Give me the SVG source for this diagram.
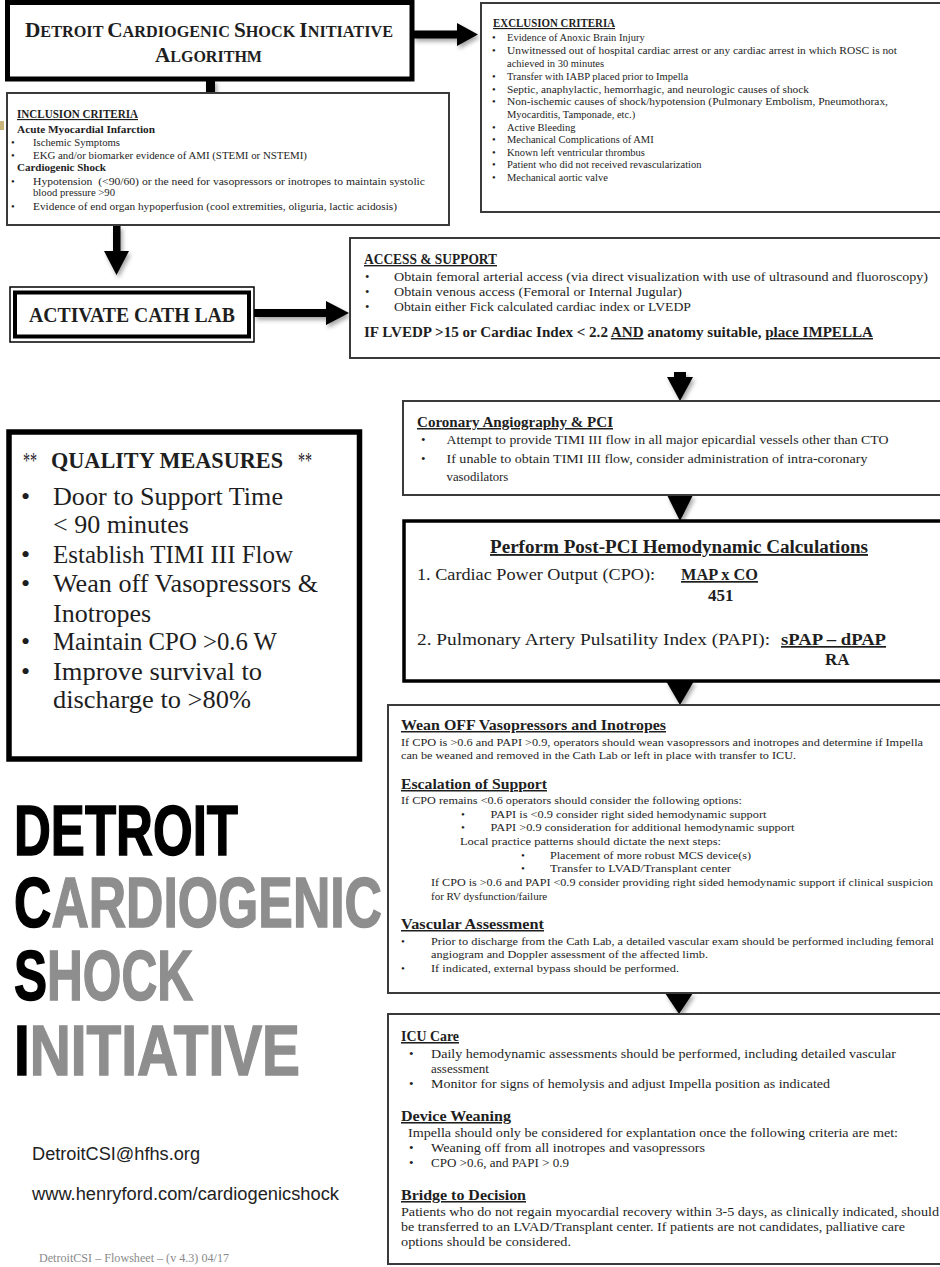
<svg xmlns="http://www.w3.org/2000/svg" width="940" height="1267" viewBox="0 0 940 1267">
  <defs>
    <filter id="shadow" x="-40%" y="-40%" width="180%" height="180%">
      <feDropShadow dx="2" dy="3" stdDeviation="2" flood-color="#000" flood-opacity="0.35"/>
    </filter>
  </defs>
  <style>
    .box{fill:#fff;stroke:#3a3a3a;stroke-width:2}
    .heavy{fill:#fff;stroke:#000}
    .s{font-family:"Liberation Serif","DejaVu Serif",serif;fill:#1e1e1e}
    .b{font-weight:bold}
    .u{text-decoration:underline}
    .arrow{fill:#000;filter:url(#shadow)}
    .ex{font-size:10.5px}
    .inc{font-size:10.7px}
    .acc{font-size:12.6px}
    .cor{font-size:12.8px}
    .pci{font-size:17px}
    .wn{font-size:11px}
    .icu{font-size:13px}
    .qm{font-size:26px}
    .logo{font-family:"Liberation Sans Narrow","Liberation Sans",sans-serif;font-weight:bold;font-size:70px}
    .dark{fill:#000;stroke:#000;stroke-width:1.5}
    .grey{fill:#8e8e8e;stroke:#8e8e8e;stroke-width:1.5}
    .sans{font-family:"Liberation Sans",Arial,sans-serif;font-size:18px;fill:#222}
  </style>
  <rect width="940" height="1267" fill="#fff"/>
  <rect x="0" y="121" width="4" height="9" fill="#c9b57a"/>

  <!-- connectors -->
  <g id="connectors">
    <polygon class="arrow" points="413,30.5 457,30.5 457,23 478,34.5 457,46 457,38.5 413,38.5"/>
    <polygon class="arrow" points="206,80 215,80 215,98 222.5,98 210.5,122 198.5,98 206,98"/>
    <polygon class="arrow" points="113,226 120.5,226 120.5,251 129,251 116.5,275 104,251 113,251"/>
    <polygon class="arrow" points="254,309 326,309 326,301 349,313 326,325 326,317 254,317"/>
    <polygon class="arrow" points="674,372 686,372 686,377 693,377 680,401 667,377 674,377"/>
    <polygon class="arrow" points="667,495 693,495 680,521"/>
    <polygon class="arrow" points="666,681 694,681 680,705"/>
    <polygon class="arrow" points="665,993 693,993 679,1014"/>
  </g>

  <!-- title -->
  <g id="title">
    <rect class="heavy" x="7.5" y="2.5" width="404.5" height="76.5" stroke-width="5"/>
    <text class="s b" x="25" y="37" textLength="368" lengthAdjust="spacingAndGlyphs"><tspan font-size="21">D</tspan><tspan font-size="16">ETROIT </tspan><tspan font-size="21">C</tspan><tspan font-size="16">ARDIOGENIC </tspan><tspan font-size="21">S</tspan><tspan font-size="16">HOCK </tspan><tspan font-size="21">I</tspan><tspan font-size="16">NITIATIVE</tspan></text>
    <text class="s b" x="155" y="62" textLength="107" lengthAdjust="spacingAndGlyphs"><tspan font-size="21">A</tspan><tspan font-size="16">LGORITHM</tspan></text>
  </g>

  <!-- exclusion criteria -->
  <g id="exclusion">
    <rect class="box" x="481" y="3" width="470" height="209"/>
    <text class="s b u" x="493" y="27" font-size="11.5" textLength="122" lengthAdjust="spacingAndGlyphs">EXCLUSION CRITERIA</text>
    <g class="s ex">
      <text x="492" y="41">•</text><text x="507" y="41">Evidence of Anoxic Brain Injury</text>
      <text x="492" y="54">•</text><text x="507" y="54" textLength="390" lengthAdjust="spacingAndGlyphs">Unwitnessed out of hospital cardiac arrest or any cardiac arrest in which ROSC is not</text>
      <text x="507" y="67">achieved in 30 minutes</text>
      <text x="492" y="79.5">•</text><text x="507" y="79.5">Transfer with IABP placed prior to Impella</text>
      <text x="492" y="92.5">•</text><text x="507" y="92.5" textLength="302" lengthAdjust="spacingAndGlyphs">Septic, anaphylactic, hemorrhagic, and neurologic causes of shock</text>
      <text x="492" y="105">•</text><text x="507" y="105" textLength="381" lengthAdjust="spacingAndGlyphs">Non-ischemic causes of shock/hypotension (Pulmonary Embolism, Pneumothorax,</text>
      <text x="507" y="118">Myocarditis, Tamponade, etc.)</text>
      <text x="492" y="130.5">•</text><text x="507" y="130.5">Active Bleeding</text>
      <text x="492" y="143">•</text><text x="507" y="143">Mechanical Complications of AMI</text>
      <text x="492" y="156">•</text><text x="507" y="156">Known left ventricular thrombus</text>
      <text x="492" y="168">•</text><text x="507" y="168">Patient who did not received revascularization</text>
      <text x="492" y="181">•</text><text x="507" y="181">Mechanical aortic valve</text>
    </g>
  </g>

  <!-- inclusion criteria -->
  <g id="inclusion">
    <rect class="box" x="7" y="93" width="442" height="132"/>
    <text class="s b u" x="17" y="118" font-size="11.5" textLength="121" lengthAdjust="spacingAndGlyphs">INCLUSION CRITERIA</text>
    <text class="s b" x="17" y="133" font-size="11" textLength="138" lengthAdjust="spacingAndGlyphs">Acute Myocardial Infarction</text>
    <g class="s inc">
      <text x="11" y="146">•</text><text x="33" y="146">Ischemic Symptoms</text>
      <text x="11" y="159">•</text><text x="33" y="159" textLength="274" lengthAdjust="spacingAndGlyphs">EKG and/or biomarker evidence of AMI (STEMI or NSTEMI)</text>
      <text x="11" y="185">•</text><text x="33" y="185" textLength="392" lengthAdjust="spacingAndGlyphs">Hypotension&#160; (&lt;90/60) or the need for vasopressors or inotropes to maintain systolic</text>
      <text x="33" y="196">blood pressure &gt;90</text>
      <text x="11" y="210">•</text><text x="33" y="210" textLength="364" lengthAdjust="spacingAndGlyphs">Evidence of end organ hypoperfusion (cool extremities, oliguria, lactic acidosis)</text>
    </g>
    <text class="s b" x="17" y="171" font-size="11" textLength="89" lengthAdjust="spacingAndGlyphs">Cardiogenic Shock</text>
  </g>

  <!-- activate cath lab -->
  <g id="cath-lab">
    <rect x="10" y="287" width="244" height="55" fill="#fff" stroke="#000" stroke-width="1.5"/>
    <rect x="15" y="292.5" width="234" height="44" fill="none" stroke="#000" stroke-width="4"/>
    <text class="s b" x="29" y="322" font-size="21" textLength="206" lengthAdjust="spacingAndGlyphs">ACTIVATE CATH LAB</text>
  </g>

  <!-- access & support -->
  <g id="access">
    <rect class="box" x="350" y="238" width="600" height="120"/>
    <text class="s b u" x="364" y="264" font-size="14" textLength="133" lengthAdjust="spacingAndGlyphs">ACCESS &amp; SUPPORT</text>
    <g class="s acc">
      <text x="365" y="281">•</text><text x="394" y="281" textLength="534" lengthAdjust="spacingAndGlyphs">Obtain femoral arterial access (via direct visualization with use of ultrasound and fluoroscopy)</text>
      <text x="365" y="296">•</text><text x="394" y="296" textLength="288" lengthAdjust="spacingAndGlyphs">Obtain venous access (Femoral or Internal Jugular)</text>
      <text x="365" y="311">•</text><text x="394" y="311" textLength="297" lengthAdjust="spacingAndGlyphs">Obtain either Fick calculated cardiac index or LVEDP</text>
    </g>
    <text class="s b" x="364" y="337" font-size="14.5" textLength="509" lengthAdjust="spacingAndGlyphs">IF LVEDP &gt;15 or Cardiac Index &lt; 2.2 <tspan class="u">AND</tspan> anatomy suitable, <tspan class="u">place IMPELLA</tspan></text>
  </g>

  <!-- coronary angiography -->
  <g id="angiography">
    <rect class="box" x="403" y="401" width="560" height="94"/>
    <text class="s b u" x="417" y="427" font-size="15" textLength="196" lengthAdjust="spacingAndGlyphs">Coronary Angiography &amp; PCI</text>
    <g class="s cor">
      <text x="421" y="444">•</text><text x="446.5" y="444" textLength="442" lengthAdjust="spacingAndGlyphs">Attempt to provide TIMI III flow in all major epicardial vessels other than CTO</text>
      <text x="421" y="463">•</text><text x="446.5" y="463" textLength="421" lengthAdjust="spacingAndGlyphs">If unable to obtain TIMI III flow, consider administration of intra-coronary</text>
      <text x="446.5" y="481">vasodilators</text>
    </g>
  </g>

  <!-- post-PCI calculations -->
  <g id="post-pci">
    <rect class="heavy" x="404" y="521" width="560" height="160" stroke-width="3.5"/>
    <text class="s b u" x="490" y="553" font-size="18.5" textLength="378" lengthAdjust="spacingAndGlyphs">Perform Post-PCI Hemodynamic Calculations</text>
    <g class="s pci">
      <text x="417" y="580" textLength="238" lengthAdjust="spacingAndGlyphs">1. Cardiac Power Output (CPO):</text>
      <text class="b u" x="681" y="580" textLength="77" lengthAdjust="spacingAndGlyphs">MAP x CO</text>
      <text class="b" x="708" y="601">451</text>
      <text x="417" y="645" textLength="353" lengthAdjust="spacingAndGlyphs">2. Pulmonary Artery Pulsatility Index (PAPI):</text>
      <text class="b u" x="781" y="645" textLength="105" lengthAdjust="spacingAndGlyphs">sPAP – dPAP</text>
      <text class="b" x="825" y="665">RA</text>
    </g>
  </g>

  <!-- weaning / escalation / vascular -->
  <g id="wean">
    <rect class="box" x="388" y="705" width="560" height="288"/>
    <text class="s b u" x="401" y="730" font-size="15" textLength="265" lengthAdjust="spacingAndGlyphs">Wean OFF Vasopressors and Inotropes</text>
    <text class="s b u" x="401" y="789" font-size="15" textLength="146" lengthAdjust="spacingAndGlyphs">Escalation of Support</text>
    <text class="s b u" x="401" y="929" font-size="15" textLength="143" lengthAdjust="spacingAndGlyphs">Vascular Assessment</text>
    <g class="s wn">
      <text x="401" y="746" textLength="522" lengthAdjust="spacingAndGlyphs">If CPO is &gt;0.6 and PAPI &gt;0.9, operators should wean vasopressors and inotropes and determine if Impella</text>
      <text x="401" y="759" textLength="395" lengthAdjust="spacingAndGlyphs">can be weaned and removed in the Cath Lab or left in place with transfer to ICU.</text>
      <text x="401" y="804" textLength="341" lengthAdjust="spacingAndGlyphs">If CPO remains &lt;0.6 operators should consider the following options:</text>
      <text x="461" y="818">•</text><text x="490.5" y="818" textLength="276" lengthAdjust="spacingAndGlyphs">PAPI is &lt;0.9 consider right sided hemodynamic support</text>
      <text x="461" y="831">•</text><text x="490.5" y="831" textLength="304" lengthAdjust="spacingAndGlyphs">PAPI &gt;0.9 consideration for additional hemodynamic support</text>
      <text x="460" y="845" textLength="261" lengthAdjust="spacingAndGlyphs">Local practice patterns should dictate the next steps:</text>
      <text x="521" y="859">•</text><text x="550" y="859" textLength="201" lengthAdjust="spacingAndGlyphs">Placement of more robust MCS device(s)</text>
      <text x="521" y="872">•</text><text x="550" y="872" textLength="181" lengthAdjust="spacingAndGlyphs">Transfer to LVAD/Transplant center</text>
      <text x="431" y="886" textLength="502" lengthAdjust="spacingAndGlyphs">If CPO is &gt;0.6 and PAPI &lt;0.9 consider providing right sided hemodynamic support if clinical suspicion</text>
      <text x="431" y="900">for RV dysfunction/failure</text>
      <text x="401" y="945">•</text><text x="431" y="945" textLength="503" lengthAdjust="spacingAndGlyphs">Prior to discharge from the Cath Lab, a detailed vascular exam should be performed including femoral</text>
      <text x="431" y="958" textLength="277" lengthAdjust="spacingAndGlyphs">angiogram and Doppler assessment of the affected limb.</text>
      <text x="401" y="972">•</text><text x="431" y="972" textLength="248" lengthAdjust="spacingAndGlyphs">If indicated, external bypass should be performed.</text>
    </g>
  </g>

  <!-- ICU care -->
  <g id="icu">
    <rect class="box" x="388" y="1014" width="560" height="250"/>
    <text class="s b u" x="401" y="1041" font-size="15.5" textLength="58" lengthAdjust="spacingAndGlyphs">ICU Care</text>
    <text class="s b u" x="401" y="1121" font-size="15.5" textLength="110" lengthAdjust="spacingAndGlyphs">Device Weaning</text>
    <text class="s b u" x="401" y="1200" font-size="15.5" textLength="125" lengthAdjust="spacingAndGlyphs">Bridge to Decision</text>
    <g class="s icu">
      <text x="409" y="1058">•</text><text x="431" y="1058" textLength="465" lengthAdjust="spacingAndGlyphs">Daily hemodynamic assessments should be performed, including detailed vascular</text>
      <text x="431" y="1073">assessment</text>
      <text x="409" y="1088">•</text><text x="431" y="1088" textLength="399" lengthAdjust="spacingAndGlyphs">Monitor for signs of hemolysis and adjust Impella position as indicated</text>
      <text x="408" y="1137" textLength="490" lengthAdjust="spacingAndGlyphs">Impella should only be considered for explantation once the following criteria are met:</text>
      <text x="409" y="1152">•</text><text x="431" y="1152" textLength="274" lengthAdjust="spacingAndGlyphs">Weaning off from all inotropes and vasopressors</text>
      <text x="409" y="1167">•</text><text x="431" y="1167" textLength="138" lengthAdjust="spacingAndGlyphs">CPO &gt;0.6, and PAPI &gt; 0.9</text>
      <text x="401" y="1216" textLength="538" lengthAdjust="spacingAndGlyphs">Patients who do not regain myocardial recovery within 3-5 days, as clinically indicated, should</text>
      <text x="401" y="1231" textLength="504" lengthAdjust="spacingAndGlyphs">be transferred to an LVAD/Transplant center. If patients are not candidates, palliative care</text>
      <text x="401" y="1246" textLength="170" lengthAdjust="spacingAndGlyphs">options should be considered.</text>
    </g>
  </g>

  <!-- quality measures -->
  <g id="quality-measures">
    <rect class="heavy" x="9" y="432" width="350.5" height="327" stroke-width="5.5"/>
    <g class="s" font-size="24">
      <text x="23" y="468" textLength="14" lengthAdjust="spacingAndGlyphs">**</text>
      <text class="b" x="51" y="468" textLength="232" lengthAdjust="spacingAndGlyphs">QUALITY MEASURES</text>
      <text x="298" y="468" textLength="14" lengthAdjust="spacingAndGlyphs">**</text>
    </g>
    <g class="s qm">
      <text x="21" y="505">•</text><text x="53" y="505" textLength="230" lengthAdjust="spacingAndGlyphs">Door to Support Time</text>
      <text x="53" y="533">&lt; 90 minutes</text>
      <text x="21" y="563">•</text><text x="53" y="563" textLength="240" lengthAdjust="spacingAndGlyphs">Establish TIMI III Flow</text>
      <text x="21" y="592">•</text><text x="53" y="592" textLength="265" lengthAdjust="spacingAndGlyphs">Wean off Vasopressors &amp;</text>
      <text x="53" y="622">Inotropes</text>
      <text x="21" y="650">•</text><text x="53" y="650" textLength="224" lengthAdjust="spacingAndGlyphs">Maintain CPO &gt;0.6 W</text>
      <text x="21" y="680">•</text><text x="53" y="680" textLength="209" lengthAdjust="spacingAndGlyphs">Improve survival to</text>
      <text x="53" y="708" textLength="198" lengthAdjust="spacingAndGlyphs">discharge to &gt;80%</text>
    </g>
  </g>

  <!-- initiative logo -->
  <g id="logo" class="logo">
    <text x="14" y="855" textLength="224" lengthAdjust="spacingAndGlyphs"><tspan class="dark">DETROIT</tspan></text>
    <text x="14" y="927" textLength="368" lengthAdjust="spacingAndGlyphs"><tspan class="dark">C</tspan><tspan class="grey">ARDIOGENIC</tspan></text>
    <text x="14" y="1000" textLength="179" lengthAdjust="spacingAndGlyphs"><tspan class="dark">S</tspan><tspan class="grey">HOCK</tspan></text>
    <text x="14" y="1075" textLength="286" lengthAdjust="spacingAndGlyphs"><tspan class="dark">I</tspan><tspan class="grey">NITIATIVE</tspan></text>
  </g>

  <!-- contact details -->
  <g id="contact">
    <text class="sans" x="32" y="1160" textLength="168" lengthAdjust="spacingAndGlyphs">DetroitCSI@hfhs.org</text>
    <text class="sans" x="32" y="1200" textLength="307" lengthAdjust="spacingAndGlyphs">www.henryford.com/cardiogenicshock</text>
    <text class="s" x="39" y="1262" font-size="11.5" style="fill:#8a8a8a" textLength="190" lengthAdjust="spacingAndGlyphs">DetroitCSI – Flowsheet – (v 4.3) 04/17</text>
  </g>
</svg>
